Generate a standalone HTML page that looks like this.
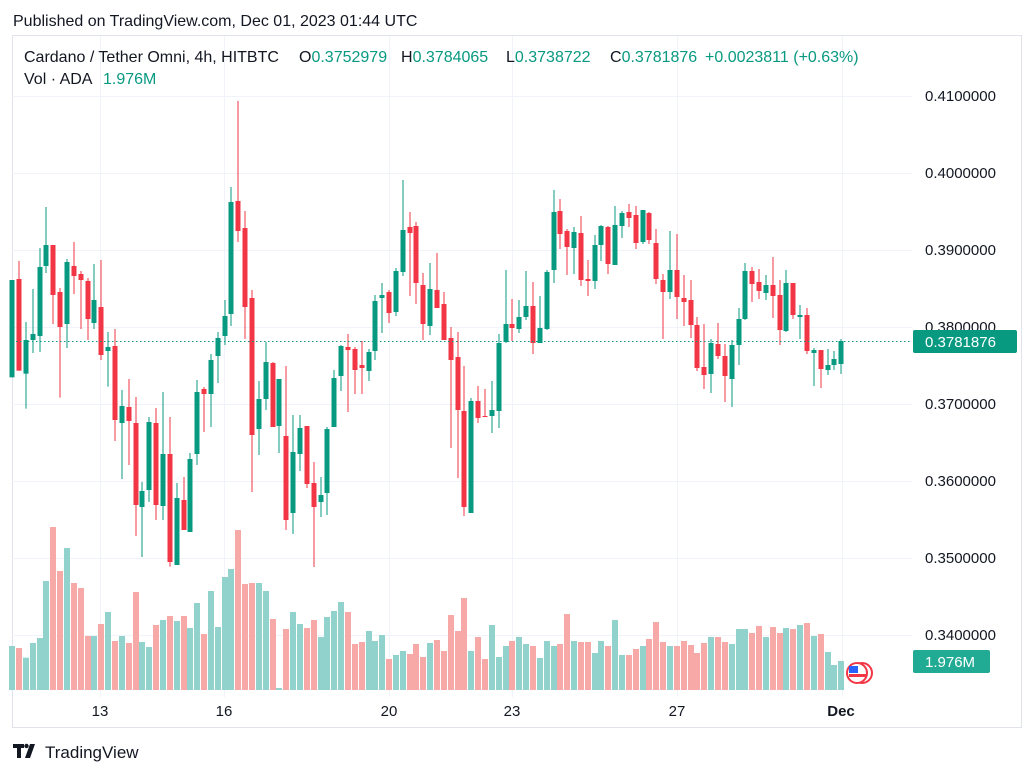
<!DOCTYPE html>
<html><head><meta charset="utf-8"><style>
body{margin:0;background:#fff;width:1035px;height:774px;overflow:hidden;font-family:"Liberation Sans",sans-serif;}
text{white-space:pre;}
</style></head><body>
<svg id="s" width="1035" height="774" xmlns="http://www.w3.org/2000/svg" style="position:absolute;left:0;top:0">
<text x="13" y="26" font-size="16" fill="#131722">Published on TradingView.com, Dec 01, 2023 01:44 UTC</text>
<rect x="12.5" y="35.5" width="1009" height="692" fill="none" stroke="#e0e3eb"/>
<g id="grid" stroke="#f0f3fa" stroke-width="1"></g>
<g id="vol"></g>
<g id="cdl"></g>
<line x1="12" x2="912" y1="341.5" y2="341.5" stroke="#089981" stroke-dasharray="1.5,2.5" stroke-width="1"/>
<g font-size="15" fill="#131722" id="plab"></g>
<rect x="913" y="330" width="104" height="23" rx="2" fill="#089981"/>
<text x="925" y="347" font-size="15" fill="#fff">0.3781876</text>
<rect x="913" y="650" width="77" height="23" rx="2" fill="#22ab94"/>
<text x="925" y="667" font-size="15" fill="#fff">1.976M</text>
<g font-size="15" fill="#131722" text-anchor="middle">
<text x="100" y="716">13</text><text x="224" y="716">16</text><text x="389" y="716">20</text><text x="512" y="716">23</text><text x="677" y="716">27</text><text x="841" y="716" font-weight="bold">Dec</text>
</g>
<circle cx="862" cy="673" r="10" fill="#fff" stroke="#f23645" stroke-width="2"/>
<circle cx="857" cy="673" r="10" fill="#fff" stroke="#f23645" stroke-width="2"/>
<rect x="849" y="666" width="9" height="7" fill="#2962ff"/>
<rect x="849" y="674" width="17" height="3" fill="#f23645"/>
<g font-size="16" fill="#131722">
<text x="24" y="62">Cardano / Tether Omni, 4h, HITBTC</text>
<text x="299" y="62">O<tspan fill="#089981">0.3752979</tspan></text>
<text x="401" y="62">H<tspan fill="#089981">0.3784065</tspan></text>
<text x="506" y="62">L<tspan fill="#089981">0.3738722</tspan></text>
<text x="610" y="62">C<tspan fill="#089981">0.3781876</tspan></text>
<text x="705" y="62" fill="#089981">+0.0023811 (+0.63%)</text>
<text x="24" y="84">Vol · ADA</text>
<text x="103" y="84" fill="#089981">1.976M</text>
</g>
<g transform="translate(13,742)"><path d="M0 2h11v4H8v10H4V6H0z M12 16l5-14h5l-5 14z" fill="#131722"/><circle cx="13.5" cy="4" r="2.2" fill="#131722"/></g>
<text x="45" y="758" font-size="17" fill="#131722">TradingView</text>
</svg>
<script>
var C=[
['g',570,862,570,862],['r',567,842,513,842],['g',750,851,696,956],['g',732,750,597,789],['g',531,738,474,786],['g',465,528,351,549],['r',465,615,465,702],['r',606,711,594,923],['g',516,702,507,774],['r',528,558,456,612],
['r',552,570,543,717],['r',573,687,564,750],['g',630,699,522,717],['r',651,795,510,810],['g',771,783,726,890],['r',768,990,717,1053],['g',948,999,900,1167],['r',951,993,867,1125],['r',999,1245,921,1338],['g',1203,1251,1176,1401],
['g',996,1200,981,1236],['r',999,1245,954,1290],['g',1092,1248,906,1290],['r',1092,1416,981,1430],['g',1224,1425,1179,1425],['r',1230,1320,1161,1320],['g',1107,1326,1089,1326],['g',906,1092,870,1125],['r',897,912,891,1026],['g',810,912,792,1011],
['g',744,798,726,879],['g',678,738,630,765],['g',336,672,291,708],['r',333,423,33,456],['r',414,651,363,747],['r',624,1035,600,1206],['g',927,1017,873,1095],['g',816,927,756,960],['r',819,1011,816,1011],['g',867,1008,867,1089],
['r',1038,1290,828,1320],['g',1086,1269,975,1332],['g',1014,1092,975,1143],['r',1008,1182,1008,1194],['r',1179,1251,1116,1431],['g',1215,1236,1161,1281],['g',1017,1209,1011,1275],['g',864,1011,840,1011],['g',768,858,765,903],['r',771,780,732,966],
['r',777,840,771,912],['r',825,834,753,912],['g',786,843,777,873],['g',633,783,615,810],['g',615,624,579,729],['r',606,669,600,699],['g',543,666,534,678],['g',420,546,270,558],['r',411,429,366,618],['r',408,579,396,642],
['r',585,702,549,750],['g',597,708,519,735],['r',600,654,489,654],['r',642,750,606,750],['r',744,810,711,1074],['r',801,960,726,1164],['r',963,1251,828,1278],['g',933,1269,924,1269],['r',933,984,888,999],['r',978,981,897,981],
['g',960,978,873,1029],['g',759,963,732,1014],['g',702,756,540,759],['r',702,714,627,753],['g',681,717,630,729],['g',648,681,543,690],['r',648,759,576,792],['g',714,759,618,759],['g',546,717,540,720],['g',366,540,300,579],
['r',363,432,327,477],['r',423,471,417,555],['g',426,474,411,552],['r',429,570,378,588],['r',567,573,510,618],['g',465,573,435,597],['g',408,465,405,513],['r',411,522,408,552],['g',405,525,348,525],['g',369,408,363,444],
['r',366,384,342,411],['r',375,459,348,477],['g',360,456,360,462],['r',369,450,366,462],['r',459,567,417,582],['r',570,606,552,747],['g',540,606,423,627],['r',540,621,432,687],['r',624,636,555,708],['r',630,705,570,744],
['r',705,834,681,843],['r',831,855,702,897],['g',759,852,747,909],['r',762,798,699,807],['r',798,858,762,936],['g',765,867,750,951],['g',687,765,654,825],['g',543,687,519,690],['r',543,582,531,636],['r',576,603,537,627],
['g',585,609,555,630],['r',585,618,501,684],['r',615,720,570,765],['g',579,723,540,726],['r',579,675,579,687],['g',675,681,645,747],['r',675,783,654,792],['g',780,789,774,888],['r',780,837,780,894],['g',825,840,777,855],
['g',807,825,783,840],['g',753,822,747,852]];
var V=[378,384,413,369,354,183,21,153,84,189,204,348,348,312,276,363,348,369,216,366,381,315,300,288,303,288,324,249,342,213,321,171,147,30,192,189,189,213,297,504,327,276,312,324,300,351,291,273,246,276,372,366,333,363,345,417,405,393,402,372,411,369,360,393,285,
333,234,393,351,417,315,411,378,363,351,372,378,414,363,378,372,282,363,366,366,399,363,378,300,405,405,387,378,357,306,366,378,378,363,375,399,369,351,351,366,372,327,327,339,318,351,321,339,324,327,315,309,348,342,396,435,423];
var ns='http://www.w3.org/2000/svg';
function el(p,t,a){var e=document.createElementNS(ns,t);for(var k in a)e.setAttribute(k,a[k]);document.getElementById(p).appendChild(e);}
var prices=['0.4100000','0.4000000','0.3900000','0.3800000','0.3700000','0.3600000','0.3500000','0.3400000'];
for(var i=0;i<8;i++){var y=96+77*i;el('grid','line',{x1:12,x2:912,y1:y+.5,y2:y+.5});
 var t=document.createElementNS(ns,'text');t.setAttribute('x',925);t.setAttribute('y',y+5);t.textContent=prices[i];document.getElementById('plab').appendChild(t);}
[100,224,389,512,677,842].forEach(function(x){el('grid','line',{x1:x+.5,x2:x+.5,y1:36,y2:697});});
for(var i=0;i<C.length;i++){
 var c=C[i],x=12.2+6.852*i,col=c[0]=='g'?'#089981':'#f23645';
 var yt=90+c[1]/3,yb=90+c[2]/3,wt=90+c[3]/3,wb=90+c[4]/3;
 el('cdl','rect',{x:Math.round(x)-0.5,y:wt,width:1,height:Math.max(1,wb-wt),fill:col});
 el('cdl','rect',{x:Math.round(x)-2.5,y:yt,width:5,height:Math.max(1,yb-yt),fill:col});
 var vt=520+V[i]/3;
 el('vol','rect',{x:Math.round(x)-3,y:vt,width:6,height:690-vt,fill:c[0]=='g'?'#92d2cc':'#f7a9a7'});
}
</script>
</body></html>
